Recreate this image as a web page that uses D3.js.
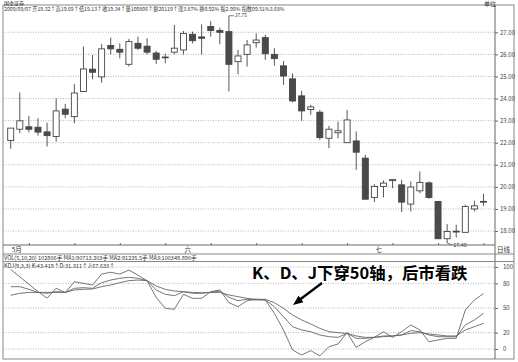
<!DOCTYPE html>
<html><head><meta charset="utf-8">
<script src="https://cdn.jsdelivr.net/npm/d3@7/dist/d3.min.js"></script>
<style>
html,body{margin:0;padding:0;background:#fff;}
svg{display:block;}
text{font-family:"Noto Sans CJK SC","DejaVu Sans",sans-serif;}
</style></head>
<body>
<svg id="c" width="518" height="362"></svg>
<script>
// ---- data ----
const opens  = [22.10,22.61,22.72,22.70,22.49,22.28,23.52,23.18,24.32,25.33,24.98,26.40,26.23,25.55,26.50,26.37,26.06,25.88,26.10,26.20,26.91,26.79,27.26,27.08,27.03,25.67,26.00,26.53,26.76,26.00,25.48,24.89,24.12,23.50,23.38,22.20,22.45,22.00,22.08,21.30,19.52,20.02,20.28,20.09,19.22,19.82,20.18,19.34,17.65,17.97,17.94,19.00,19.32];
const highs  = [22.66,24.28,23.21,23.11,22.91,24.01,23.76,24.65,26.35,25.97,26.46,26.76,26.50,26.70,26.80,26.73,26.16,26.03,27.33,27.06,27.03,27.36,27.51,27.21,27.75,26.20,26.65,26.95,26.88,26.28,25.70,25.14,24.35,23.71,23.49,22.76,22.96,23.49,22.51,21.45,20.12,20.29,20.35,20.32,20.24,20.70,20.24,19.34,18.31,18.28,19.19,19.37,19.69];
const lows   = [21.72,22.43,22.47,22.32,21.83,22.05,23.11,22.88,24.32,24.87,24.72,26.00,25.82,25.45,26.20,26.00,25.57,25.60,26.00,26.00,26.50,26.00,26.80,26.46,24.32,25.10,25.45,26.31,25.75,25.49,24.62,23.83,22.99,23.26,22.13,21.75,22.20,22.00,20.77,19.44,19.31,19.52,19.94,18.86,18.89,19.71,19.46,17.65,17.46,17.71,17.94,18.89,19.13];
const closes = [22.66,22.99,22.61,22.48,22.32,23.44,23.29,24.25,25.34,25.19,26.25,26.25,26.10,26.58,26.28,26.10,25.78,25.86,26.28,26.95,26.62,26.73,27.08,27.00,25.55,25.93,26.43,26.65,26.03,25.81,25.02,23.89,23.44,23.62,22.23,22.61,22.54,23.03,21.57,19.44,20.02,20.17,20.33,19.31,19.99,20.20,19.52,17.65,17.98,17.99,19.11,19.14,19.34];
const kVals = [76,76,72.8,69,67.9,70,69,74,74.8,74,80.9,84.1,86.2,87.4,86.2,83.3,72,66.7,65,69.9,67.9,67.9,69,70.7,63,58.9,60.6,59.8,59.8,51.6,39.4,27.2,23.2,21.1,17.1,15,14.2,19.1,13,13,14.2,15.9,15.9,17.1,22.4,21.1,17.1,15,15,15,29.3,35.4,43.4];
const dVals = [65.5,67.9,69,69,69.1,69,69,72,72.8,73.2,76,78,80.9,83.3,84.1,83.3,76.8,72.8,70.7,69.9,69,68.7,69,69,65.9,63.8,61.8,60.6,60.6,56.5,49.6,41.5,35.4,30.5,25.2,21.1,19.9,19.1,15.9,14.2,14.2,15,15.9,17.1,19.1,19.9,18.3,17.1,15.9,15.9,23.2,27.2,31.3];
const jVals = [97,88,79,70,62,74,68.7,82.1,80,78,91.4,93.5,91.4,96.3,90,83.3,63,49.6,48.4,66.7,61.8,61.8,69.9,72,56.5,51.6,58.9,60.6,59.8,43.5,23.2,-1.2,-7.3,-2,-8.5,2.8,6.1,19.9,2,8.9,14.2,21.1,14.2,21.1,29.3,23.2,8.9,11,13,13,47.6,59.8,67.6];
const priceTicks = [18,19,20,21,22,23,24,25,26,27];
const kdjTicks = [0,20,50,80,100];
const xLabels = [{i:0,t:"5月"},{i:19,t:"六"},{i:40,t:"七"}];
const titleText = "国金证券";
const infoText = "2009/09/07 开19.32↑高19.69↑低19.13↑收19.34↑量100806↑额20119↑涨3.87% 换0.92% 振2.90% 指数09.51%3.68%";
const volText = "VOL(5,10,20) 102806手 MA1:90713.203手 MA2:91235.5手 MA3:100349.890手";
const kdjText = "KDJ(9,3,3) K:43.419↑D:31.311↑J:67.633↑";
const noteText = "K、D、J下穿50轴，后市看跌";

// ---- drawing ----
const svg = d3.select("#c");
const n = opens.length;
const x = d3.scalePoint().domain(d3.range(n)).range([10.7, 483.5]);
const y = d3.scaleLinear().domain([18, 27]).range([231, 32.3]);
const yk = d3.scaleLinear().domain([0, 100]).range([349, 267]);
const axisX = 495, leftX = 3;
const ink = "#444", grid = "#999";
const latin = "DejaVu Sans, Noto Sans CJK SC, sans-serif";

// frame
svg.append("rect").attr("x", leftX).attr("y", 5).attr("width", 514 - leftX).attr("height", 354)
  .attr("fill", "none").attr("stroke", "#888").attr("stroke-width", 1);
svg.append("line").attr("x1", axisX).attr("x2", axisX).attr("y1", 5).attr("y2", 359).attr("stroke", "#666");

// header texts
svg.append("text").attr("x", 4).attr("y", 4.9).attr("font-size", 5).attr("font-family", latin).attr("fill", "#222").text(titleText);
svg.append("text").attr("x", 4).attr("y", 11.2).attr("font-size", 5.2).attr("font-family", latin).attr("fill", "#333").text(infoText);
svg.append("text").attr("x", 484).attr("y", 6).attr("font-size", 6).attr("fill", "#333").text("单位");

// price grid
svg.append("g").selectAll("line").data(priceTicks).join("line")
  .attr("x1", leftX).attr("x2", axisX).attr("y1", d => y(d)).attr("y2", d => y(d))
  .attr("stroke", grid).attr("stroke-width", 0.7).attr("stroke-dasharray", "1,1.5");

// price axis
const pa = svg.append("g").attr("transform", `translate(${axisX},0)`)
  .call(d3.axisRight(y).tickValues(priceTicks).tickFormat(d3.format(".2f")).tickSize(3).tickPadding(2));
pa.select(".domain").remove();
pa.selectAll("line").attr("stroke", "#666");
pa.selectAll("text").attr("font-size", 6).attr("fill", "#444").attr("font-family", "DejaVu Sans");

// candles
const g = svg.append("g");
const bw = 6;
d3.range(n).forEach(i => {
  const up = closes[i] >= opens[i];
  const cx = x(i);
  g.append("line").attr("x1", cx).attr("x2", cx).attr("y1", y(highs[i])).attr("y2", y(lows[i]))
    .attr("stroke", ink).attr("stroke-width", 0.9);
  const top = y(Math.max(opens[i], closes[i])), bot = y(Math.min(opens[i], closes[i]));
  g.append("rect").attr("x", cx - bw / 2).attr("y", top).attr("width", bw).attr("height", Math.max(bot - top, 0.8))
    .attr("fill", up ? "#fff" : "#4a4a4a").attr("stroke", ink).attr("stroke-width", 0.9);
});

// high / low markers
const iMax = d3.maxIndex(highs), iMin = d3.minIndex(lows);
svg.append("line").attr("x1", x(iMax)).attr("y1", y(highs[iMax])).attr("x2", x(iMax) + 5).attr("y2", y(highs[iMax])).attr("stroke", ink).attr("stroke-width", 0.7);
svg.append("text").attr("x", x(iMax) + 6).attr("y", y(highs[iMax]) + 1.6).attr("font-size", 4.8).attr("fill", "#333").attr("font-family", "DejaVu Sans").text(d3.format(".2f")(highs[iMax]));
svg.append("line").attr("x1", x(iMin)).attr("y1", y(lows[iMin])).attr("x2", x(iMin) + 5).attr("y2", y(lows[iMin]) + 2).attr("stroke", ink).attr("stroke-width", 0.7);
svg.append("text").attr("x", x(iMin) + 6).attr("y", y(lows[iMin]) + 4).attr("font-size", 5.5).attr("fill", "#333").attr("font-family", "DejaVu Sans").text(d3.format(".2f")(lows[iMin]));

// x axis of price panel
svg.append("line").attr("x1", leftX).attr("x2", axisX).attr("y1", 245).attr("y2", 245).attr("stroke", "#666");
const xa = svg.append("g").attr("transform", "translate(0,245)")
  .call(d3.axisTop(x).tickValues(d3.range(2, n, 5)).tickFormat("").tickSize(2));
xa.select(".domain").remove();
xa.selectAll("line").attr("stroke", "#666");
svg.append("g").selectAll("text").data(xLabels).join("text")
  .attr("x", d => x(d.i) + 1).attr("y", 252).attr("font-size", 6.5).attr("fill", "#333").text(d => d.t);
svg.append("text").attr("x", 497).attr("y", 252).attr("font-size", 6.5).attr("fill", "#333").text("日线");
svg.append("line").attr("x1", leftX).attr("x2", 514).attr("y1", 254).attr("y2", 254).attr("stroke", "#888");
svg.append("text").attr("x", 4).attr("y", 260).attr("font-size", 5.6).attr("fill", "#333").text(volText);
svg.append("line").attr("x1", leftX).attr("x2", 514).attr("y1", 261.5).attr("y2", 261.5).attr("stroke", "#888");
svg.append("text").attr("x", 4).attr("y", 267.5).attr("font-size", 5.6).attr("fill", "#333").text(kdjText);

// kdj grid
svg.append("g").selectAll("line").data(kdjTicks).join("line")
  .attr("x1", leftX).attr("x2", axisX).attr("y1", d => yk(d)).attr("y2", d => yk(d))
  .attr("stroke", grid).attr("stroke-width", 0.7).attr("stroke-dasharray", "1,1.5");
const ka = svg.append("g").attr("transform", `translate(${axisX},0)`)
  .call(d3.axisRight(yk).tickValues(kdjTicks).tickSize(3).tickPadding(5));
ka.select(".domain").remove();
ka.selectAll("line").attr("stroke", "#666");
ka.selectAll("text").attr("font-size", 6).attr("fill", "#444").attr("font-family", "DejaVu Sans");

// kdj lines
const line = d3.line().x((d, i) => x(i)).y(d => yk(d));
[jVals, kVals, dVals].forEach(arr => {
  svg.append("path").datum(arr).attr("d", line).attr("fill", "none").attr("stroke", "#666").attr("stroke-width", 0.9);
});

// annotation
svg.append("text").attr("x", 252).attr("y", 279).attr("font-size", 16.4).attr("font-weight", "bold")
  .attr("fill", "#000").text(noteText);
const ax1 = 322, ay1 = 283, ax2 = 293, ay2 = 305;
svg.append("line").attr("x1", ax1).attr("y1", ay1).attr("x2", ax2 + 5).attr("y2", ay2 - 4).attr("stroke", "#000").attr("stroke-width", 2.2);
const ang = Math.atan2(ay2 - ay1, ax2 - ax1);
const hl = 10, hw = 4;
const bx = ax2 - hl * Math.cos(ang), by = ay2 - hl * Math.sin(ang);
svg.append("path").attr("d", `M${ax2},${ay2}L${bx - hw * Math.sin(ang)},${by + hw * Math.cos(ang)}L${bx + hw * Math.sin(ang)},${by - hw * Math.cos(ang)}Z`).attr("fill", "#000");
</script>
</body></html>
